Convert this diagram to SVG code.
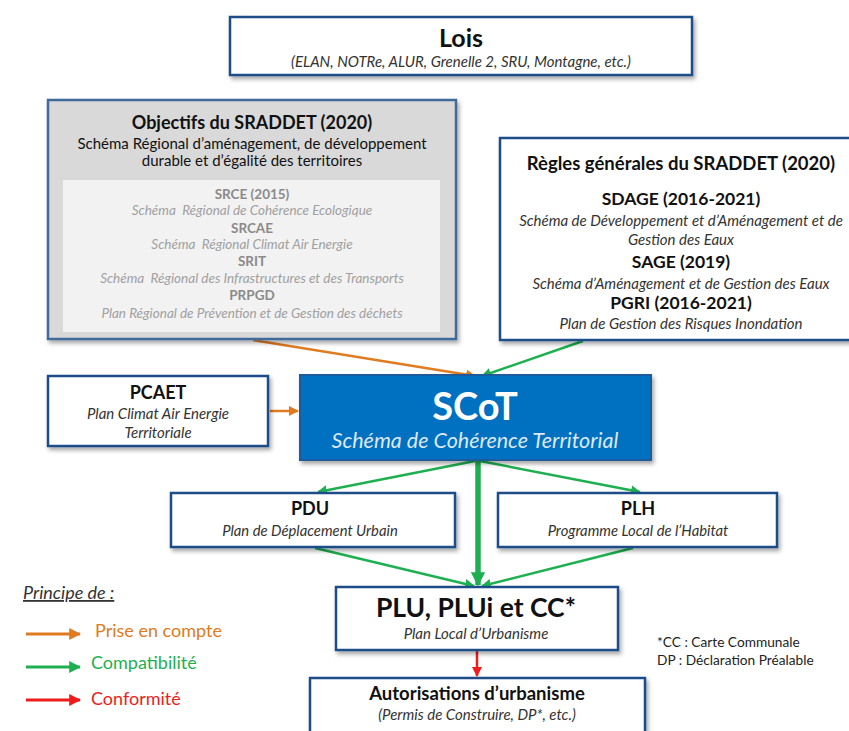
<svg xmlns="http://www.w3.org/2000/svg" width="849" height="731" viewBox="0 0 849 731">
<defs>
  <filter id="sh" x="-5%" y="-5%" width="115%" height="125%">
    <feDropShadow dx="2" dy="3" stdDeviation="2" flood-color="#000" flood-opacity="0.35"/>
  </filter>
  <marker id="mo" viewBox="0 0 10 10" refX="9" refY="5" markerWidth="4" markerHeight="4" orient="auto" markerUnits="strokeWidth"><path d="M0,0 L10,5 L0,10 z" fill="#e07b20"/></marker>
  <marker id="mg" viewBox="0 0 10 10" refX="9" refY="5" markerWidth="4" markerHeight="4" orient="auto" markerUnits="strokeWidth"><path d="M0,0 L10,5 L0,10 z" fill="#1eb050"/></marker>
  <marker id="mgt" viewBox="0 0 10 10" refX="9" refY="5" markerWidth="2.6" markerHeight="2.6" orient="auto" markerUnits="strokeWidth"><path d="M0,0 L10,5 L0,10 z" fill="#1eb050"/></marker>
  <marker id="mr" viewBox="0 0 10 10" refX="9" refY="5" markerWidth="4" markerHeight="4" orient="auto" markerUnits="strokeWidth"><path d="M0,0 L10,5 L0,10 z" fill="#ee1c1c"/></marker>
  <style>
    text { font-family: Lato, "Open Sans", "Liberation Sans", sans-serif; text-anchor: middle; fill: #111; }
    .box { fill: #fff; stroke: #1f4e88; stroke-width: 2.5; filter: url(#sh); }
    .t { font-weight: bold; }
    .i { font-style: italic; fill: #333; }
    .g1 { font-weight: bold; fill: #8a8a8a; font-size: 13.5px; }
    .g2 { font-style: italic; fill: #a0a0a0; font-size: 13.5px; white-space: pre; }
    .or { stroke: #e07b20; stroke-width: 2.5; fill: none; }
    .gr { stroke: #1eb050; stroke-width: 2.5; fill: none; }
    .rd { stroke: #ee1c1c; stroke-width: 2.5; fill: none; }
    .lg { text-anchor: start; font-size: 18px; }
  </style>
</defs>
<rect width="849" height="731" fill="#fff"/>

<!-- connectors -->
<g id="connectors">
  <line class="or" x1="253" y1="340" x2="475" y2="376" marker-end="url(#mo)"/>
  <line class="gr" x1="583" y1="341" x2="482" y2="376" marker-end="url(#mg)"/>
  <line class="or" x1="270" y1="411" x2="298" y2="411" marker-end="url(#mo)"/>
  <line class="gr" x1="475" y1="461" x2="318" y2="492" marker-end="url(#mg)"/>
  <line class="gr" x1="480" y1="461" x2="640" y2="492" marker-end="url(#mg)"/>
  <line x1="478" y1="461" x2="478" y2="585" style="stroke:#1eb050;stroke-width:5.5" marker-end="url(#mgt)"/>
  <line class="gr" x1="315" y1="548" x2="474" y2="586" marker-end="url(#mg)"/>
  <line class="gr" x1="633" y1="548" x2="482" y2="586" marker-end="url(#mg)"/>
  <line class="rd" x1="477" y1="651" x2="477" y2="676" marker-end="url(#mr)"/>
</g>

<!-- Lois -->
<g id="lois">
  <rect class="box" x="230" y="17" width="462" height="58"/>
  <text class="t" x="461" y="47" font-size="25">Lois</text>
  <text class="i" x="461" y="67" font-size="15">(ELAN, NOTRe, ALUR, Grenelle 2, SRU, Montagne, etc.)</text>
</g>

<!-- Objectifs SRADDET -->
<g id="objectifs">
  <rect x="48" y="100" width="408" height="239" fill="#d9d9d9" stroke="#3f6a9a" stroke-width="2.5" filter="url(#sh)"/>
  <rect x="63" y="180" width="377" height="152" fill="#f2f2f2"/>
  <text class="t" x="252" y="129" font-size="18">Objectifs du SRADDET (2020)</text>
  <text x="252" y="149" font-size="15" fill="#222">Schéma Régional d’aménagement, de développement</text>
  <text x="252" y="166" font-size="15" fill="#222">durable et d’égalité des territoires</text>
  <text class="g1" x="252" y="199">SRCE (2015)</text>
  <text class="g2" x="252" y="215">Schéma  Régional de Cohérence Ecologique</text>
  <text class="g1" x="252" y="233">SRCAE</text>
  <text class="g2" x="252" y="249">Schéma  Régional Climat Air Energie</text>
  <text class="g1" x="252" y="266">SRIT</text>
  <text class="g2" x="252" y="283">Schéma  Régional des Infrastructures et des Transports</text>
  <text class="g1" x="252" y="300">PRPGD</text>
  <text class="g2" x="252" y="318">Plan Régional de Prévention et de Gestion des déchets</text>
</g>

<!-- Règles générales SRADDET -->
<g id="regles">
  <rect class="box" x="500" y="138" width="360" height="202"/>
  <text class="t" x="681" y="170" font-size="18.5">Règles générales du SRADDET (2020)</text>
  <text class="t" x="681" y="205" font-size="17.5">SDAGE (2016-2021)</text>
  <text class="i" x="681" y="226" font-size="15">Schéma de Développement et d’Aménagement et de</text>
  <text class="i" x="681" y="245" font-size="15">Gestion des Eaux</text>
  <text class="t" x="681" y="268" font-size="17.5">SAGE (2019)</text>
  <text class="i" x="681" y="289" font-size="15">Schéma d’Aménagement et de Gestion des Eaux</text>
  <text class="t" x="681" y="309" font-size="17.5">PGRI (2016-2021)</text>
  <text class="i" x="681" y="329" font-size="15">Plan de Gestion des Risques Inondation</text>
</g>

<!-- PCAET -->
<g id="pcaet">
  <rect class="box" x="48" y="376" width="220" height="70"/>
  <text class="t" x="158" y="399" font-size="18">PCAET</text>
  <text class="i" x="158" y="419" font-size="15">Plan Climat Air Energie</text>
  <text class="i" x="158" y="438" font-size="15">Territoriale</text>
</g>

<!-- SCoT -->
<g id="scot">
  <rect x="300" y="375" width="351" height="85" fill="#0070c0" stroke="#1c5b9c" stroke-width="2" filter="url(#sh)"/>
  <text x="475" y="420" font-size="38" font-weight="bold" style="fill:#fff">SCoT</text>
  <text x="475" y="448" font-size="21.5" font-style="italic" style="fill:#dde8f5">Schéma de Cohérence Territorial</text>
</g>

<!-- PDU -->
<g id="pdu">
  <rect class="box" x="171" y="493" width="284" height="54"/>
  <text class="t" x="310" y="515" font-size="18">PDU</text>
  <text class="i" x="310" y="536" font-size="14.8">Plan de Déplacement Urbain</text>
</g>

<!-- PLH -->
<g id="plh">
  <rect class="box" x="498" y="493" width="279" height="54"/>
  <text class="t" x="638" y="515" font-size="18">PLH</text>
  <text class="i" x="638" y="536" font-size="14.8">Programme Local de l’Habitat</text>
</g>

<!-- PLU -->
<g id="plu">
  <rect class="box" x="336" y="587" width="282" height="63"/>
  <text class="t" x="476" y="617" font-size="26.5">PLU, PLUi et CC*</text>
  <text class="i" x="476" y="639" font-size="15">Plan Local d’Urbanisme</text>
</g>

<!-- Autorisations -->
<g id="autorisations">
  <rect class="box" x="310" y="678" width="335" height="60"/>
  <text class="t" x="477" y="700" font-size="18.5">Autorisations d’urbanisme</text>
  <text class="i" x="477" y="720" font-size="15">(Permis de Construire, DP*, etc.)</text>
</g>

<!-- notes -->
<g id="notes">
  <text x="657" y="647" font-size="13.7" style="text-anchor:start;fill:#222">*CC : Carte Communale</text>
  <text x="657" y="665" font-size="13.7" style="text-anchor:start;fill:#222">DP : Déclaration Préalable</text>
</g>

<!-- legend -->
<g id="legend">
  <text class="lg" x="23" y="599" font-style="italic" style="fill:#333" text-decoration="underline">Principe de :</text>
  <line class="or" x1="26" y1="634" x2="80" y2="634" style="stroke-width:3" marker-end="url(#mo)"/>
  <text class="lg" x="95" y="637" style="fill:#e07b20">Prise en compte</text>
  <line class="gr" x1="26" y1="667" x2="80" y2="667" style="stroke-width:3" marker-end="url(#mg)"/>
  <text class="lg" x="91" y="669" style="fill:#1eb050">Compatibilité</text>
  <line class="rd" x1="26" y1="700" x2="80" y2="700" style="stroke-width:3" marker-end="url(#mr)"/>
  <text class="lg" x="91" y="705" style="fill:#ee1c1c">Conformité</text>
</g>
</svg>
